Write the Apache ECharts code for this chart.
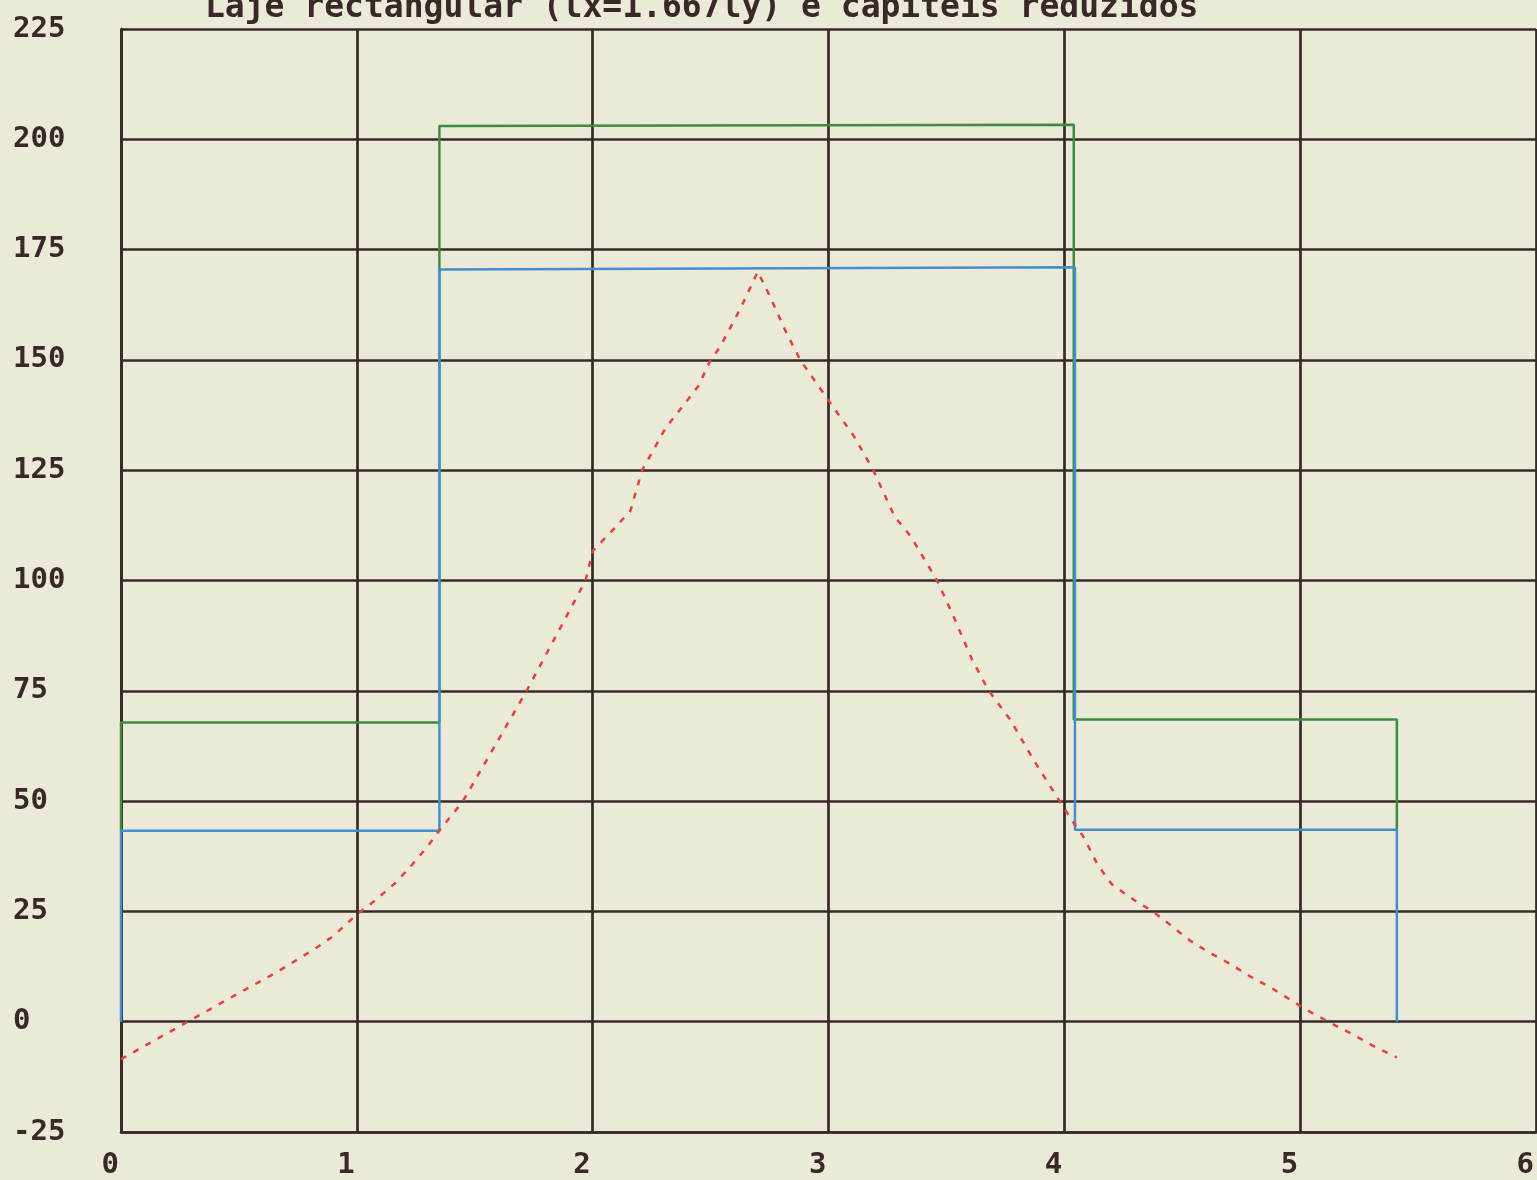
<!DOCTYPE html>
<html>
<head>
<meta charset="utf-8">
<script src="https://cdn.jsdelivr.net/npm/echarts@6/dist/echarts.min.js"></script>
<style>
html,body{margin:0;padding:0;background:#ebe9d7;}
#chart{width:1537px;height:1180px;}
</style>
</head>
<body>
<div id="chart"></div>
<script>
const titleText = 'Laje rectangular (lx=1.667ly) e capiteis reduzidos';

const blueX = [0, 0, 1.35, 1.35, 4.045, 4.045, 5.41, 5.41];
const blueY = [0, 43.3, 43.3, 170.5, 171, 43.5, 43.5, 0];

const greenX = [0, 0, 1.35, 1.35, 4.04, 4.04, 5.41, 5.41];
const greenY = [43.3, 67.8, 67.8, 203, 203.3, 68.5, 68.5, 43.5];

const redX = [0.00, 0.11, 0.27, 0.47, 0.66, 0.83, 0.90, 1.00, 1.08, 1.16, 1.22, 1.29, 1.35,
  1.45, 1.72, 1.97, 2.00, 2.09, 2.16, 2.21, 2.31, 2.45, 2.50, 2.54, 2.63, 2.70,
  2.75, 2.82, 2.88, 2.99, 3.11, 3.19, 3.28, 3.35, 3.46, 3.53, 3.61, 3.68, 3.77, 3.87, 3.98, 4.04,
  4.08, 4.14, 4.20, 4.29, 4.38, 4.46, 4.53, 4.61, 4.70, 4.79, 4.88, 4.96, 5.05, 5.14, 5.22, 5.31, 5.41];
const redY = [-8.5, -5.2, -0.4, 5.6, 11.2, 16.8, 19.4, 24.3, 27.6, 31.3, 34.7, 39.1, 43.3,
  50.0, 75.0, 100.0, 106.7, 111.7, 115.8, 125.0, 134.6, 144.2, 150.0, 152.9, 162.0, 170.0,
  164.6, 156.3, 150.0, 141.6, 132.5, 125.0, 114.5, 109.9, 100.0, 91.9, 81.9, 75.0, 68.5, 59.3, 50.0, 45.0,
  42.0, 35.7, 31.2, 27.8, 24.8, 21.5, 18.5, 15.8, 13.2, 10.2, 7.6, 4.9, 2.0, -0.6, -2.8, -5.5, -8.1];

const xMin = 0, xMax = 6, xStep = 1;
const yMin = -25, yMax = 225, yStep = 25;

const zip = (xs, ys) => xs.map((x, i) => [x, ys[i]]);

const ink = '#382828';
const fontFam = '"DejaVu Sans Mono", "Liberation Mono", monospace';
const gridLine = { show: true, lineStyle: { color: ink, width: 2.7 } };

const chart = echarts.init(document.getElementById('chart'), null, { renderer: 'canvas' });
chart.setOption({
  backgroundColor: '#ebe9d7',
  animation: false,
  title: {
    text: titleText,
    left: 200,
    top: -13,
    textStyle: { fontFamily: fontFam, fontWeight: 'bold', fontSize: 33, color: ink }
  },
  grid: { left: 121, right: 0, top: 29, bottom: 45, show: false },
  xAxis: {
    type: 'value', min: xMin, max: xMax, interval: xStep,
    axisLine: { show: true, onZero: false, lineStyle: { color: ink, width: 2.7 } },
    axisTick: { show: false },
    splitLine: gridLine,
    axisLabel: {
      fontFamily: fontFam, fontWeight: 'bold', fontSize: 29, color: ink,
      align: 'right', margin: 19, padding: [0, 2, 0, 0]
    }
  },
  yAxis: {
    type: 'value', min: yMin, max: yMax, interval: yStep,
    axisLine: { show: true, onZero: false, lineStyle: { color: ink, width: 2.7 } },
    axisTick: { show: false },
    splitLine: gridLine,
    axisLabel: {
      fontFamily: fontFam, fontWeight: 'bold', fontSize: 29, color: ink,
      align: 'left', margin: 108, padding: [0, 0, 14, 0]
    }
  },
  series: [
    {
      name: 'green', type: 'line', data: zip(greenX, greenY), symbol: 'none', z: 3,
      lineStyle: { color: '#3f8c3f', width: 2.5 }
    },
    {
      name: 'blue', type: 'line', data: zip(blueX, blueY), symbol: 'none', z: 4,
      lineStyle: { color: '#4090d0', width: 2.5 }
    },
    {
      name: 'red', type: 'line', data: zip(redX, redY), symbol: 'none', z: 5,
      lineStyle: { color: '#e0443a', width: 2.5, type: [6, 8] }
    }
  ]
});
</script>
</body>
</html>
